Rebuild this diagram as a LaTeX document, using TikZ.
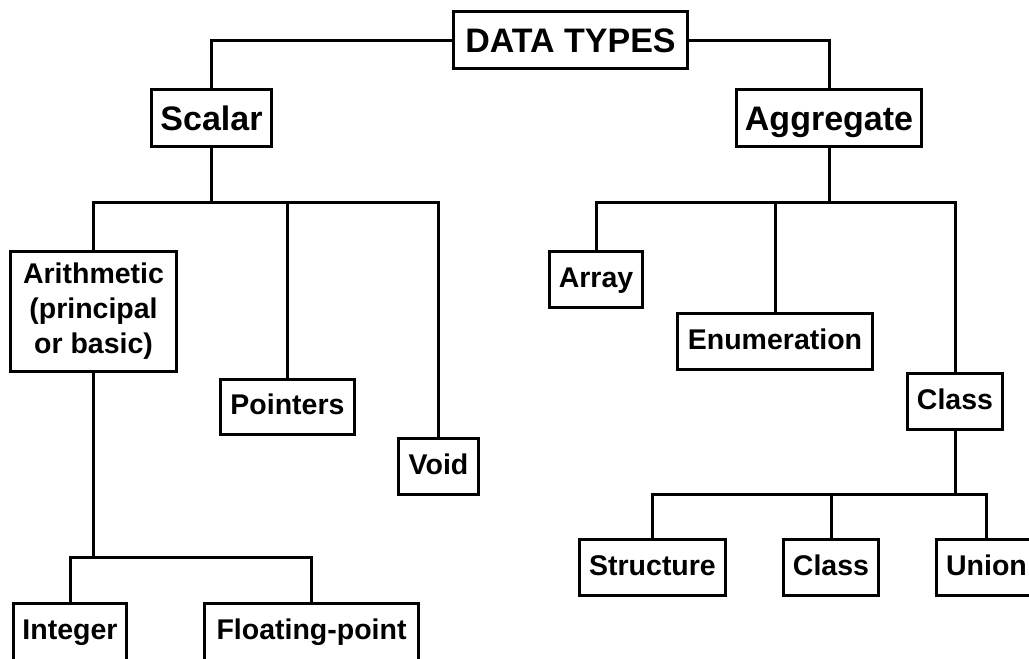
\documentclass[tikz,border=0pt]{standalone}
\usepackage{fontspec}
\setmainfont{Liberation Sans}
\begin{document}
\begin{tikzpicture}[x=1pt,y=-1pt,
  line width=3pt,
  box/.style={draw, rectangle, inner sep=0pt, font=\bfseries\fontsize{28.5}{35}\selectfont,
    text height=20.4pt, text depth=5pt},
  bigbox/.style={draw, rectangle, inner sep=0pt, font=\bfseries\fontsize{34}{40}\selectfont,
    text height=24.4pt, text depth=0pt},
  cutbox/.style={box, text depth=12pt},
  multibox/.style={draw, rectangle, inner sep=0pt, align=center,
    font=\bfseries\fontsize{28.5}{35}\selectfont},
  link/.style={line cap=rect}]
\clip (0,0) rectangle (1029,659);
\fill[white] (0,0) rectangle (1029,659);

% top level
\node[bigbox, minimum width=234pt, minimum height=57pt] (root) at (570.5,40) {DATA TYPES};
\node[bigbox, minimum width=120pt, minimum height=57pt] (scalar) at (211.5,118) {Scalar};
\node[bigbox, minimum width=185pt, minimum height=57pt] (aggr) at (829,118) {Aggregate};

% scalar branch
\node[multibox, minimum width=166pt, minimum height=120pt] (arith) at (93.5,311.5)
  {Arithmetic\\(principal\\or basic)};
\node[box, minimum width=134pt, minimum height=55pt] (ptr) at (287.5,407) {Pointers};
\node[box, minimum width=80pt, minimum height=56pt] (void) at (438.5,466.5) {Void};
\node[cutbox, minimum width=113pt, minimum height=64pt] (int) at (70,635.5) {Integer};
\node[cutbox, minimum width=214pt, minimum height=64pt] (float) at (311.5,635.5) {Floating-point};

% aggregate branch
\node[box, minimum width=93pt, minimum height=56pt] (array) at (596,279.5) {Array};
\node[box, minimum width=195pt, minimum height=56pt] (enum) at (775,341.5) {Enumeration};
\node[box, minimum width=95pt, minimum height=56pt] (class) at (955,401.5) {Class};
\node[box, minimum width=146pt, minimum height=56pt] (struct) at (652.5,567.5) {Structure};
\node[box, minimum width=95pt, minimum height=56pt] (classb) at (831,567.5) {Class};
\node[box, minimum width=106pt, minimum height=56pt] (union) at (989,567.5) {};
\node[font=\bfseries\fontsize{28.5}{35}\selectfont, inner sep=0pt,
  text height=20.4pt, text depth=5pt] (uniontext) at (986.5,567.5) {Union};

% bus points
\coordinate (sbus) at (211.5,202);
\coordinate (abus) at (829,202);
\coordinate (ibus) at (93.5,557);
\coordinate (cbus) at (955,494);

% connectors
\draw[link] (root.west) -| (scalar.north);
\draw[link] (root.east) -| (aggr.north);

\draw[link] (scalar.south) -- (sbus);
\draw[link] (sbus) -| (arith.north);
\draw[link] (sbus) -| (ptr.north);
\draw[link] (sbus) -| (void.north);

\draw[link] (arith.south) -- (ibus);
\draw[link] (ibus) -| (int.north);
\draw[link] (ibus) -| (float.north);

\draw[link] (aggr.south) -- (abus);
\draw[link] (abus) -| (array.north);
\draw[link] (abus) -| (enum.north);
\draw[link] (abus) -| (class.north);

\draw[link] (class.south) -- (cbus);
\draw[link] (cbus) -| (struct.north);
\draw[link] (cbus) -| (classb.north);
\draw[link] (cbus) -| (uniontext.north |- union.north);
\end{tikzpicture}
\end{document}
